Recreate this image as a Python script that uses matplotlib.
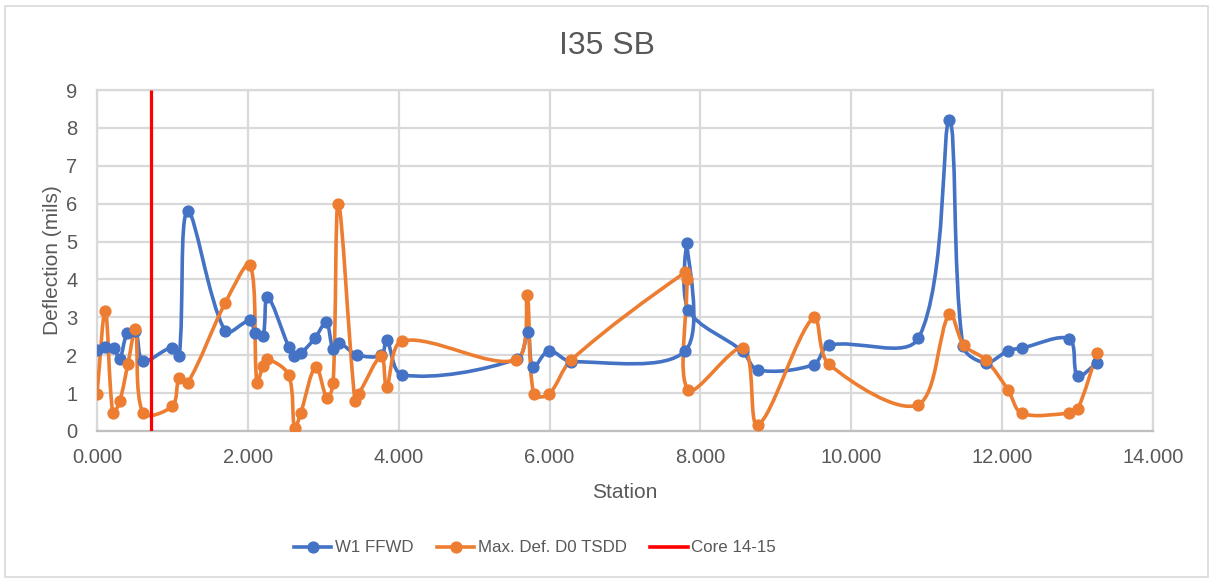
import matplotlib
matplotlib.use("Agg")
import matplotlib.pyplot as plt
from matplotlib.path import Path
from matplotlib.patches import PathPatch, Rectangle
from matplotlib.lines import Line2D
import numpy as np

plt.rcParams['font.family'] = ['Liberation Sans', 'DejaVu Sans']

title = "I35 SB"
x_label = "Station"
y_label = "Deflection (mils)"

w1_station = [0.00, 0.11, 0.22, 0.30, 0.40, 0.51, 0.61, 0.99, 1.09, 1.20, 1.70, 2.03, 2.10, 2.20,
              2.26, 2.54, 2.61, 2.71, 2.89, 3.04, 3.13, 3.21, 3.45, 3.77, 3.84, 4.05, 5.57, 5.71,
              5.78, 5.99, 6.29, 7.80, 7.82, 7.84, 8.56, 8.76, 9.50, 9.70, 10.89, 11.30, 11.48,
              11.78, 12.08, 12.26, 12.89, 13.00, 13.26]
w1_ffwd = [2.15, 2.23, 2.20, 1.90, 2.58, 2.65, 1.85, 2.20, 1.98, 5.80, 2.63, 2.92, 2.58, 2.50,
           3.54, 2.23, 1.98, 2.07, 2.45, 2.87, 2.16, 2.32, 2.01, 2.00, 2.41, 1.48, 1.90, 2.61,
           1.68, 2.12, 1.83, 2.12, 4.95, 3.20, 2.10, 1.61, 1.75, 2.26, 2.45, 8.21, 2.25,
           1.80, 2.12, 2.19, 2.43, 1.45, 1.80]

tsdd_station = [0.00, 0.11, 0.21, 0.30, 0.41, 0.51, 0.61, 1.00, 1.09, 1.20, 1.70, 2.03, 2.12, 2.20,
                2.26, 2.54, 2.62, 2.70, 2.90, 3.05, 3.13, 3.20, 3.42, 3.47, 3.77, 3.84, 4.05, 5.56,
                5.70, 5.79, 5.99, 6.29, 7.80, 7.82, 7.84, 8.57, 8.76, 9.50, 9.70, 10.88, 11.30,
                11.49, 11.78, 12.08, 12.26, 12.89, 13.00, 13.26]
tsdd_d0 = [0.98, 3.18, 0.47, 0.78, 1.77, 2.69, 0.47, 0.66, 1.39, 1.26, 3.38, 4.39, 1.26, 1.72,
           1.90, 1.48, 0.07, 0.47, 1.70, 0.86, 1.26, 6.00, 0.78, 0.97, 1.98, 1.17, 2.38, 1.88,
           3.60, 0.97, 0.97, 1.88, 4.19, 4.00, 1.08, 2.19, 0.16, 3.00, 1.77, 0.69, 3.09,
           2.27, 1.88, 1.08, 0.47, 0.47, 0.57, 2.07]

core_station = 0.71
series_names = ["W1 FFWD", "Max. Def. D0 TSDD", "Core 14-15"]

x_ticks = [0, 2, 4, 6, 8, 10, 12, 14]
y_ticks = [0, 1, 2, 3, 4, 5, 6, 7, 8, 9]

BLUE = "#4472C4"
ORANGE = "#ED7D31"
RED = "#FF0000"
GRID = "#D9D9D9"
TEXT = "#595959"

# display scale (pixels per data unit) used only for curve smoothing geometry
SX = (1153 - 97) / 14.0
SY = (431 - 90) / 9.0


def smooth_path(xs, ys, t=0.5):
    P = np.column_stack([np.asarray(xs) * SX, np.asarray(ys) * SY]).astype(float)
    n = len(P)
    tang = np.zeros_like(P)
    for i in range(n):
        if 0 < i < n - 1:
            d0 = np.hypot(*(P[i] - P[i - 1]))
            d1 = np.hypot(*(P[i + 1] - P[i]))
            tang[i] = (P[i + 1] - P[i - 1]) / max(d0 + d1, 1e-9)
    verts = [P[0]]
    codes = [Path.MOVETO]
    for i in range(n - 1):
        p1, p2 = P[i], P[i + 1]
        L = np.hypot(*(p2 - p1))
        c1 = p1 + tang[i] * L * t * (2 / 3) if i > 0 else p1 + (p2 - p1) / 3
        c2 = p2 - tang[i + 1] * L * t * (2 / 3) if i + 1 < n - 1 else p2 - (p2 - p1) / 3
        verts += [c1, c2, p2]
        codes += [Path.CURVE4] * 3
    V = np.array(verts)
    V[:, 0] /= SX
    V[:, 1] /= SY
    return Path(V, codes)


fig = plt.figure(figsize=(12.10, 5.79), dpi=100)
ax = fig.add_axes([97 / 1210, 1 - 431 / 579, (1153 - 97) / 1210, (431 - 90) / 579])

fig.patches.append(Rectangle((5 / 1210, 2 / 579), 1203 / 1210, 571 / 579, transform=fig.transFigure,
                             fill=False, edgecolor=GRID, linewidth=1.2))

ax.set_xlim(0, 14)
ax.set_ylim(0, 9)
ax.set_xticks(x_ticks)
ax.set_yticks(y_ticks)
ax.set_xticklabels([f"{t:.3f}" for t in x_ticks])
ax.set_yticklabels([str(t) for t in y_ticks])
ax.grid(True, color=GRID, linewidth=1.6)
ax.set_axisbelow(True)
for s in ax.spines.values():
    s.set_color(GRID)
    s.set_linewidth(1.6)
ax.spines['bottom'].set_color("#BFBFBF")
ax.tick_params(length=0, labelsize=14.5, labelcolor=TEXT)
ax.tick_params(axis='y', pad=14)
ax.tick_params(axis='x', pad=12)

lw = 2.6
ms = 7.8
for xs, ys, c in [(w1_station, w1_ffwd, BLUE), (tsdd_station, tsdd_d0, ORANGE)]:
    ax.add_patch(PathPatch(smooth_path(xs, ys), facecolor='none', edgecolor=c, linewidth=lw,
                           capstyle='round', joinstyle='round', zorder=3))
    ax.plot(xs, ys, linestyle='none', marker='o', markersize=ms, color=c, zorder=4)

ax.plot([core_station, core_station], [0, 9], color=RED, linewidth=2.3, zorder=5, solid_capstyle='butt')

fig.text(607 / 1210, 1 - 46 / 579, title, fontsize=23, color=TEXT, ha='center', va='center')
ax.set_xlabel(x_label, fontsize=15, color=TEXT, labelpad=12)
ax.set_ylabel(y_label, fontsize=15, color=TEXT, labelpad=3)

handles = [Line2D([], [], color=BLUE, lw=lw, marker='o', markersize=ms),
           Line2D([], [], color=ORANGE, lw=lw, marker='o', markersize=ms),
           Line2D([], [], color=RED, lw=lw)]
fig.legend(handles, series_names, loc='center', bbox_to_anchor=(535 / 1210, 1 - 548 / 579), ncol=3,
           frameon=False, fontsize=12.2, labelcolor=TEXT, handlelength=2.2, columnspacing=1.4,
           handletextpad=0.2)

fig.savefig("out.png", dpi=100)
